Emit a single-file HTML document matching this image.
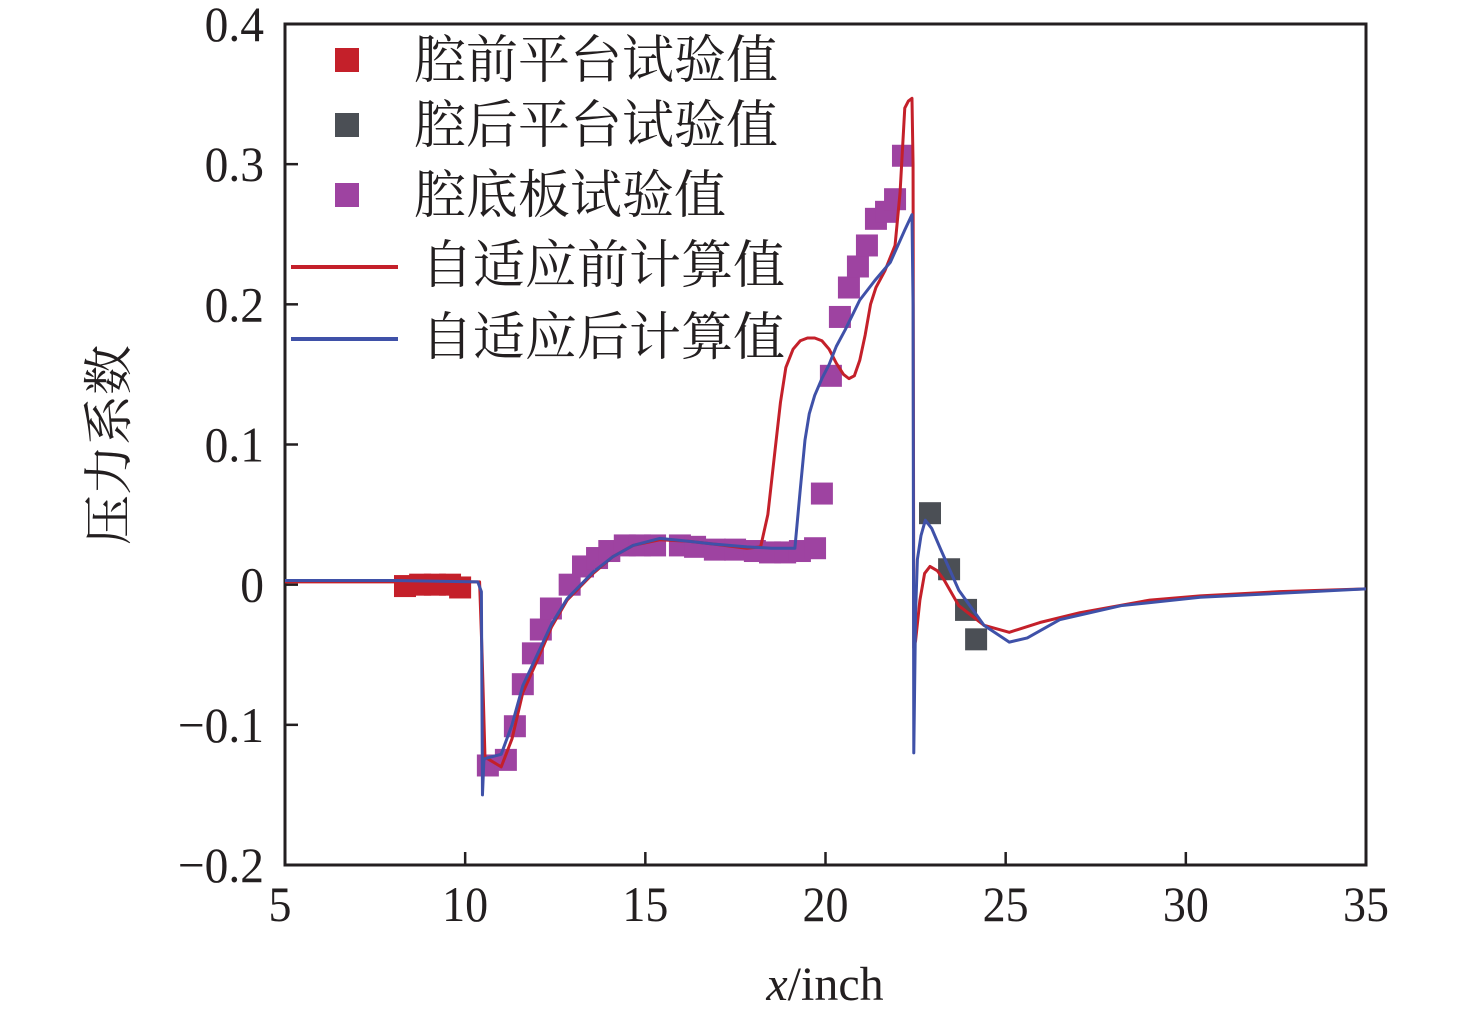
<!DOCTYPE html>
<html><head><meta charset="utf-8"><style>
html,body{margin:0;padding:0;background:#fff;}
svg{display:block;}
text{font-family:"Liberation Serif","Noto Serif CJK SC",serif;fill:#231f20;}
.cjk{font-family:"Liberation Serif","Noto Serif CJK SC","Noto Sans CJK SC",serif;}
</style></head><body>
<svg id="chart" width="1476" height="1016" viewBox="0 0 1476 1016" xmlns="http://www.w3.org/2000/svg">
<g id="axes"></g>
<g id="series"></g>
<g id="legend"></g>
<text class="cjk" font-size="50" transform="translate(126,445) rotate(-90)" text-anchor="middle">压力系数</text>
<text x="825" y="1000" font-size="48" text-anchor="middle"><tspan font-style="italic">x</tspan>/inch</text>
</svg>
<script>
const xTicks=[5,10,15,20,25,30,35];
const yTicks=[-0.2,-0.1,0,0.1,0.2,0.3,0.4];
const yTickLabels=["\u22120.2","\u22120.1","0","0.1","0.2","0.3","0.4"];
const frontX=[8.33,8.75,9.16,9.58,9.86];
const frontY=[-0.001,0,0,0,-0.002];
const rearX=[22.9,23.43,23.9,24.18];
const rearY=[0.051,0.011,-0.018,-0.039];
const floorX=[10.63,11.13,11.38,11.6,11.88,12.1,12.38,12.9,13.27,13.66,14.0,14.43,14.85,15.27,15.96,16.38,16.93,17.49,18.04,18.46,18.88,19.29,19.71,19.9,20.15,20.4,20.65,20.9,21.15,21.4,21.68,21.93,22.15];
const floorY=[-0.129,-0.125,-0.101,-0.071,-0.049,-0.032,-0.017,0.0,0.013,0.019,0.024,0.028,0.028,0.028,0.028,0.027,0.025,0.025,0.024,0.023,0.023,0.024,0.026,0.065,0.149,0.191,0.212,0.227,0.242,0.261,0.266,0.275,0.306];
const redX=[5,8,10.4,10.47,10.55,11.0,11.3,11.6,12.0,12.4,12.83,13.55,14.1,14.66,15.4,16.2,16.88,17.82,18.2,18.4,18.6,18.75,18.9,19.1,19.3,19.5,19.7,19.9,20.1,20.3,20.5,20.65,20.8,20.95,21.1,21.25,21.4,21.65,21.93,22.07,22.2,22.3,22.4,22.43,22.45,22.5,22.62,22.75,22.9,23.1,23.3,23.7,24.4,25.1,25.95,27.06,29.0,30.4,32.6,35];
const redY=[0.002,0.002,0.002,-0.05,-0.123,-0.13,-0.11,-0.077,-0.054,-0.03,-0.011,0.008,0.02,0.028,0.032,0.031,0.029,0.026,0.027,0.05,0.096,0.13,0.155,0.168,0.174,0.176,0.176,0.174,0.168,0.158,0.15,0.147,0.149,0.16,0.178,0.2,0.212,0.224,0.242,0.28,0.34,0.345,0.347,0.3,-0.045,-0.04,-0.011,0.008,0.013,0.01,0.003,-0.015,-0.029,-0.034,-0.027,-0.02,-0.011,-0.008,-0.005,-0.003];
const blueX=[5,8,10.35,10.45,10.48,10.52,10.56,11.0,11.3,11.6,12.0,12.4,12.83,13.55,14.1,14.66,15.4,16.2,16.88,17.82,18.5,19.15,19.3,19.43,19.55,19.7,19.9,20.1,20.3,20.55,20.95,21.37,21.8,22.2,22.4,22.43,22.45,22.5,22.55,22.65,22.77,22.95,23.2,23.7,24.4,25.1,25.6,26.5,28.2,30.4,35];
const blueY=[0.003,0.003,0.002,-0.005,-0.15,-0.125,-0.124,-0.121,-0.1,-0.072,-0.05,-0.028,-0.01,0.009,0.02,0.028,0.033,0.031,0.029,0.027,0.026,0.026,0.068,0.103,0.122,0.135,0.147,0.157,0.17,0.182,0.203,0.217,0.23,0.253,0.264,0.2,-0.12,-0.02,0.018,0.035,0.046,0.04,0.025,-0.004,-0.029,-0.041,-0.038,-0.025,-0.015,-0.009,-0.003];
const legendLabels=["腔前平台试验值","腔后平台试验值","腔底板试验值","自适应前计算值","自适应后计算值"];
const RED="#c4202a",DARK="#4b4f55",PURPLE="#9e43a1",BLUE="#3f51a8";
const L=285,R=1366,T=24,B=865;
const sx=v=>L+(v-5)/30*(R-L);
const sy=v=>B-(v+0.2)/0.6*(B-T);
const NS="http://www.w3.org/2000/svg";
function mk(tag,attrs,parent){const e=document.createElementNS(NS,tag);for(const k in attrs)e.setAttribute(k,attrs[k]);parent.appendChild(e);return e;}
const axes=document.getElementById('axes'),series=document.getElementById('series'),legend=document.getElementById('legend');
let r=mk('rect',{x:L,y:T,width:R-L,height:B-T,fill:'none',stroke:'#231f20','stroke-width':3},axes);


xTicks.forEach(v=>{
  const t=mk('line',{x1:sx(v),x2:sx(v),y1:B,y2:B-13,stroke:'#231f20','stroke-width':2.5},axes);
  
  
  const g=mk('g',{transform:`translate(${sx(v)-(v===5?5:0)},921) scale(0.92,1)`},axes);
  const tx=mk('text',{x:0,y:0,'font-size':50,'text-anchor':'middle'},g);
  tx.textContent=String(v);
  
  
});
yTicks.forEach((v,i)=>{
  const t=mk('line',{x1:L,x2:L+13,y1:sy(v),y2:sy(v),stroke:'#231f20','stroke-width':2.5},axes);
  
  
  const g=mk('g',{transform:`translate(264,${sy(v)+17}) scale(0.95,1)`},axes);
  const tx=mk('text',{x:0,y:0,'font-size':50,'text-anchor':'end'},g);
  tx.textContent=yTickLabels[i];
  
  
});
function squares(xs,ys,color,name){
  xs.forEach((x,i)=>{
    const s=mk('rect',{x:sx(x)-11,y:sy(ys[i])-11,width:22,height:22,fill:color},series);
    
    
  });
}
function line(xs,ys,color,name){
  const p=mk('polyline',{points:xs.map((x,i)=>sx(x)+','+sy(ys[i])).join(' '),fill:'none',stroke:color,'stroke-width':3,'stroke-linejoin':'round'},series);
  
  
}
squares(frontX,frontY,RED,'front-platform-point');
squares(floorX,floorY,PURPLE,'cavity-floor-point');
squares(rearX,rearY,DARK,'rear-platform-point');
line(redX,redY,RED,'pre-adaptive-line');
line(blueX,blueY,BLUE,'post-adaptive-line');
const legY=[60,125,195,265,337];
const legColors=[RED,DARK,PURPLE,RED,BLUE];
legendLabels.forEach((lab,i)=>{
  if(i<3){
    const m=mk('rect',{x:335,y:legY[i]-12,width:24,height:24,fill:legColors[i]},legend);
    
    
  } else {
    const m=mk('line',{x1:291,x2:398,y1:legY[i]+2,y2:legY[i]+2,stroke:legColors[i],'stroke-width':4},legend);
    
    
  }
  const t=mk('text',{x:i<3?414:421,y:legY[i]+18,'font-size':52,class:'cjk'},legend);
  t.textContent=lab;
  
  
});
</script>
</body></html>
